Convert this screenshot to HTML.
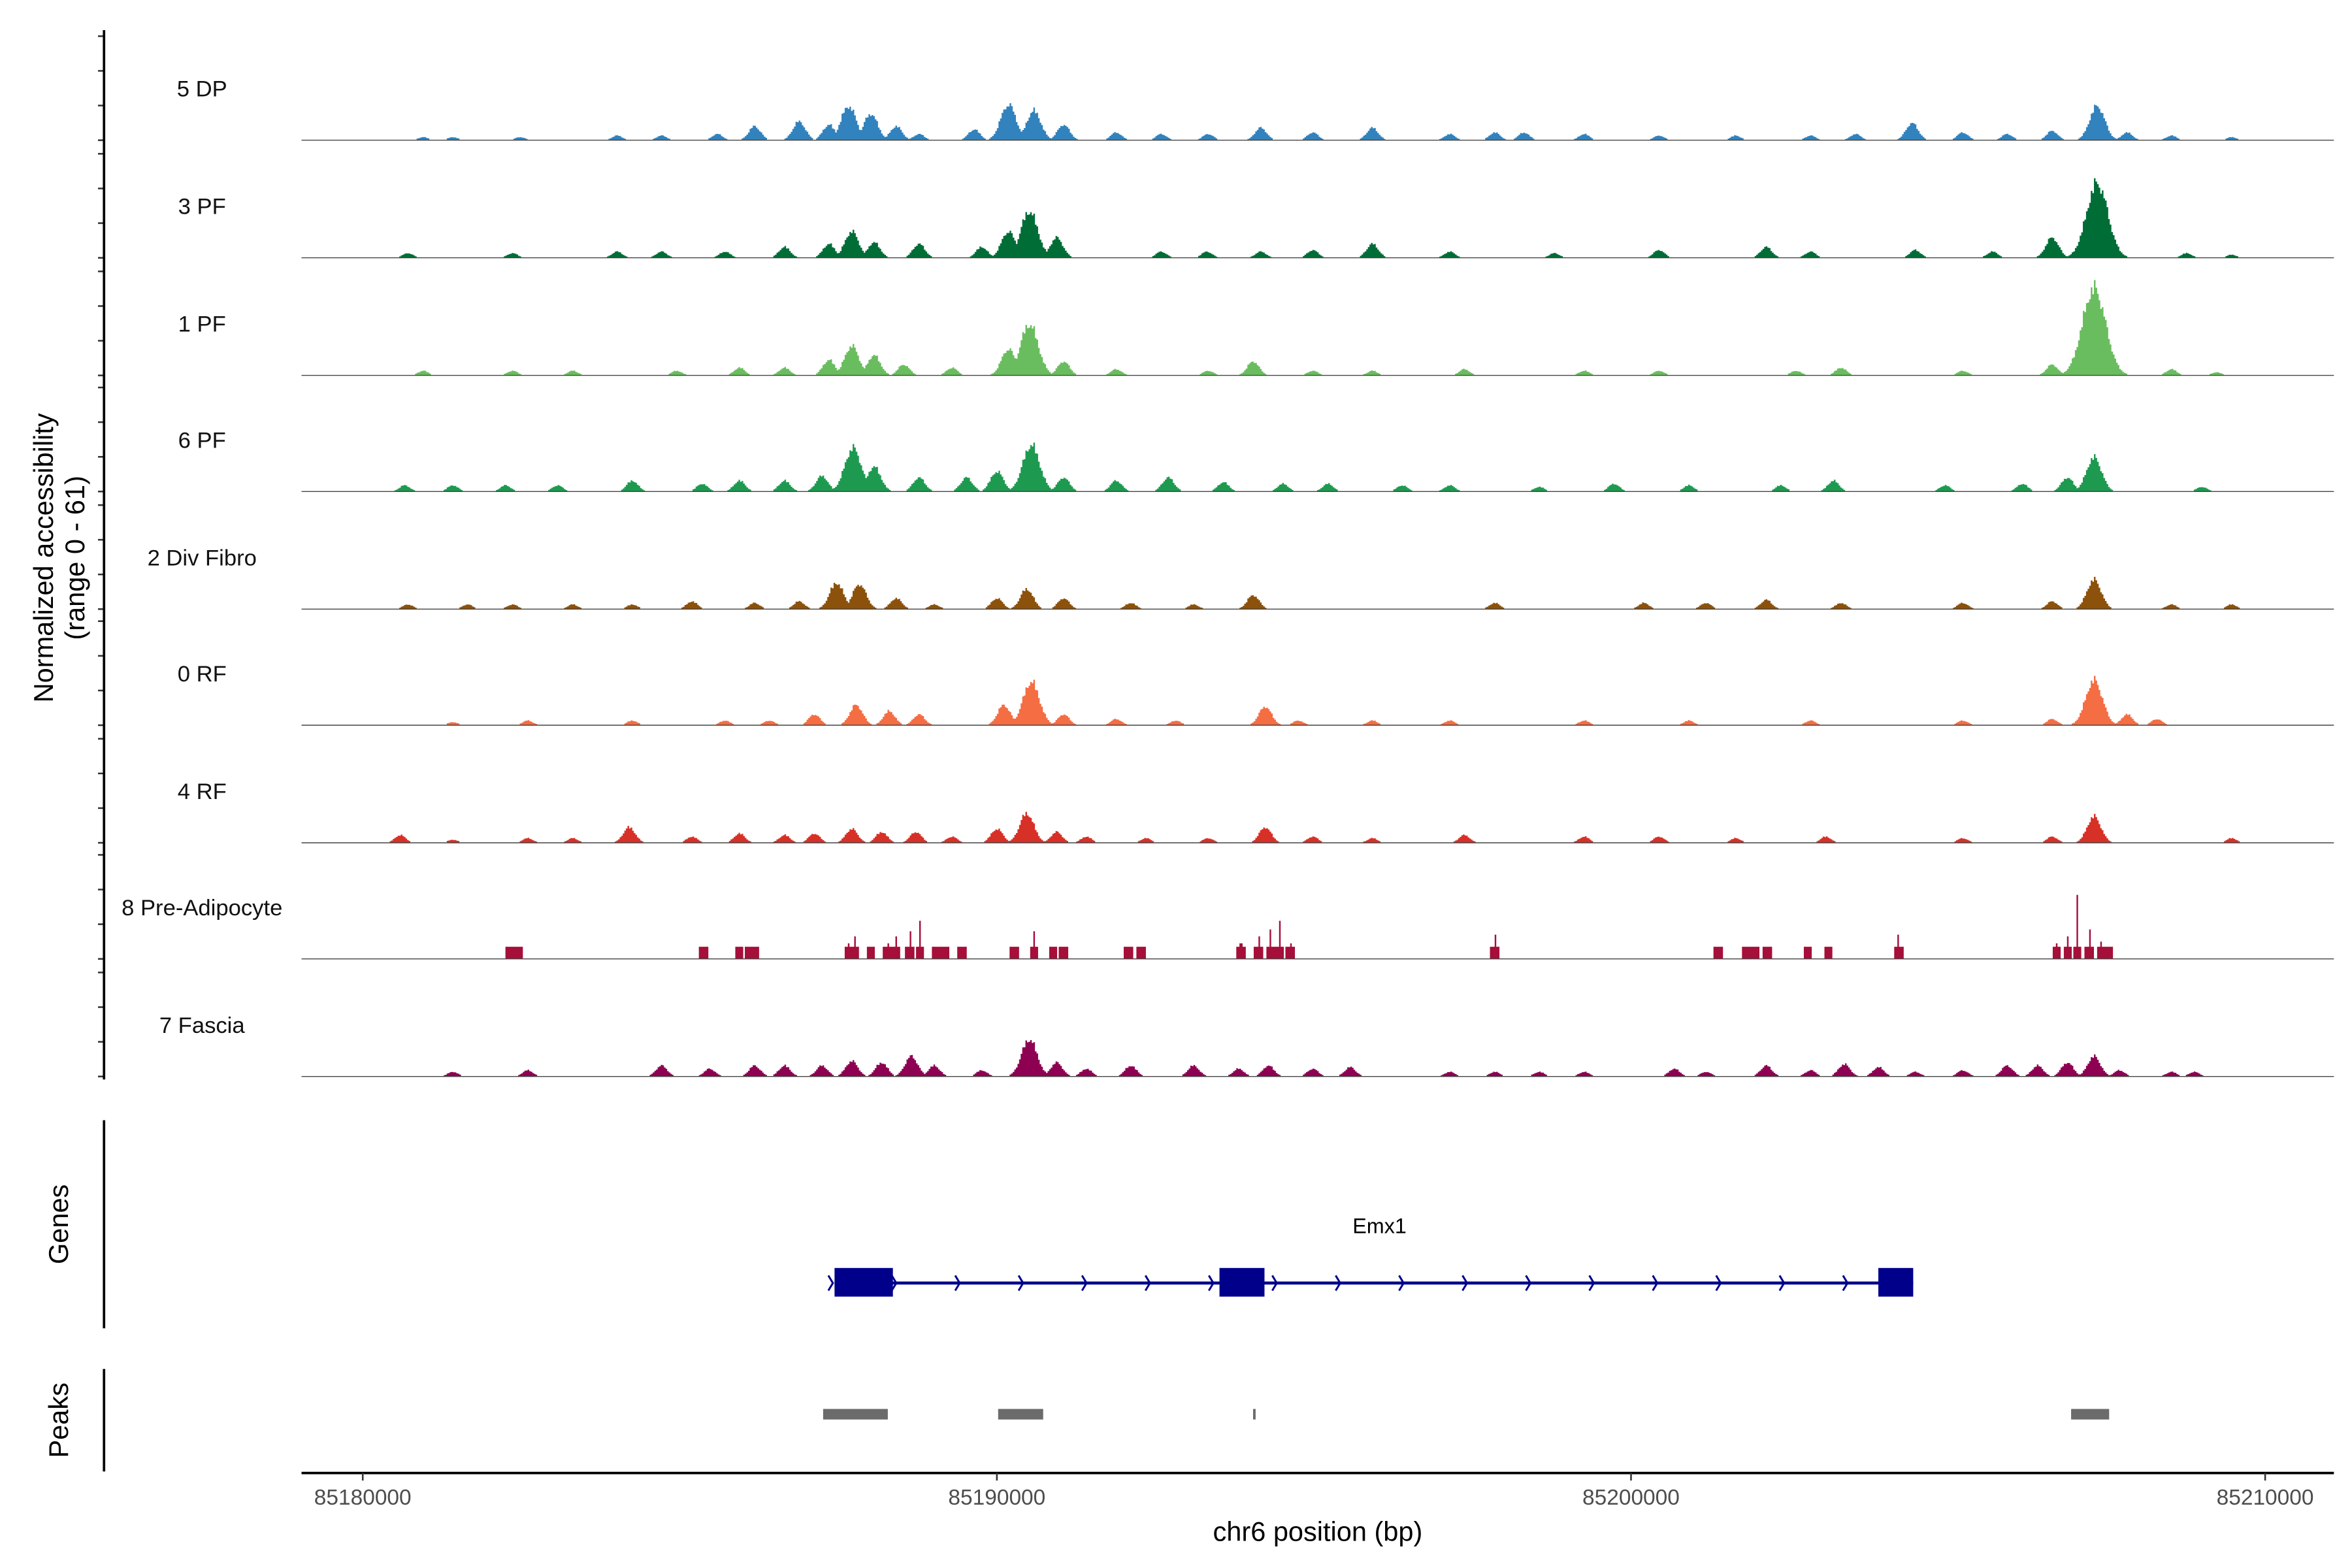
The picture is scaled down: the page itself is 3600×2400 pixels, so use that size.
<!DOCTYPE html>
<html><head><meta charset="utf-8"><style>
html,body{margin:0;padding:0;background:#fff;}
svg{display:block;}
text{font-family:"Liberation Sans",Arial,sans-serif;}
</style></head><body>
<svg id="chart" width="3600" height="2400" viewBox="0 0 1560 1040" xmlns="http://www.w3.org/2000/svg">
<rect width="1560" height="1040" fill="#fff"/>
<g id="tracks"></g>
<g id="axes"></g>
</svg>
<script>
// region: kb offsets from 85,180,000 bp
const regionStart = 85180000;
const trackNames = ["5 DP","3 PF","1 PF","6 PF","2 Div Fibro","0 RF","4 RF","8 Pre-Adipocyte","7 Fascia"];
const trackColors = ["#3182BD","#006D37","#6ABD5F","#1E9A50","#8C510A","#F46D43","#D73027","#A50F3A","#8E0152"];
const pos5DP = [0.94,1.41,2.47,4.0,4.7,5.58,6.17,6.87,7.34,7.65,8.0,8.4,8.76,9.63,10.17,10.57,11.04,11.87,12.58,13.32,14.15,14.97,15.91,17.13,17.84,18.3,19.25,20.43,21.64,22.82,23.53,24.42,25.22,25.92,26.63,27.34,27.81,28.51,29.46];
const val5DP = [2,2,2,3,3,4,9,12,10,22,17,9,4,7,23,19,10,5,4,4,8,5,8,4,5,5,4,3,3,3,4,11,5,4,6,22,5,3,2];
const pos3PF = [0.7,2.35,4.0,4.7,5.7,6.64,7.34,7.7,8.05,8.76,9.75,10.17,10.5,10.93,12.58,13.3,14.15,14.97,15.91,17.13,18.78,20.43,22.12,22.82,24.47,25.69,26.63,27.34,28.75,29.46];
const val3PF = [3,3,4,4,4,7,9,17,10,9,7,17,30,13,4,4,4,5,9,4,3,5,7,4,5,4,13,48,3,2];
const pos1PF = [0.94,2.35,3.3,4.94,5.93,6.64,7.34,7.7,8.05,8.52,9.28,10.17,10.5,11.04,11.87,13.32,14.03,14.97,15.91,17.36,19.25,20.43,22.59,23.3,25.22,26.63,27.29,28.51,29.22];
const val1PF = [3,3,3,3,5,5,10,19,13,7,5,17,33,9,4,3,9,3,3,4,3,3,3,5,3,7,56,4,2];
const pos6PF = [0.65,1.41,2.24,3.06,4.24,5.34,5.93,6.64,7.23,7.72,8.05,8.76,9.51,9.99,10.53,11.04,11.87,12.69,13.56,14.5,15.21,16.38,17.13,18.54,19.72,20.9,22.35,23.18,24.94,26.16,26.87,27.29,28.99];
const val6PF = [4,4,4,4,7,5,7,7,10,28,16,9,9,13,30,9,7,9,6,5,5,4,4,3,5,4,4,7,4,5,9,22,3];
const posDiv = [0.7,1.64,2.35,3.3,4.24,5.18,6.17,6.87,7.46,7.82,8.4,9.0,9.99,10.46,11.04,12.1,13.09,14.03,17.84,20.19,21.17,22.12,23.3,25.22,26.63,27.29,28.51,29.46];
const valDiv = [3,3,3,3,3,5,4,5,17,16,7,3,7,13,7,4,3,9,4,4,4,6,4,4,5,19,3,3];
const pos0RF = [1.41,2.59,4.24,5.7,6.4,7.11,7.77,8.29,8.76,10.1,10.53,11.04,11.87,12.81,14.22,14.74,15.91,17.13,19.25,20.9,22.82,25.22,26.63,27.29,27.81,28.28];
const val0RF = [2,3,3,3,3,7,13,9,7,13,28,7,4,3,12,3,3,3,3,3,3,3,4,29,7,4];
const pos4RF = [0.58,1.41,2.59,3.3,4.19,5.18,5.93,6.64,7.11,7.7,8.17,8.71,9.28,9.99,10.46,10.93,11.4,12.34,13.32,14.22,14.97,15.91,17.36,19.25,20.43,21.64,23.06,25.22,26.63,27.29,29.46];
const val4RF = [5,2,3,3,10,4,6,5,6,9,7,7,4,9,19,7,4,3,3,10,4,3,5,4,4,3,4,3,4,17,3];
const posPre = [2.3,2.44,5.36,5.93,6.07,6.17,7.65,7.75,8.0,8.27,8.4,8.62,8.78,9.04,9.18,9.44,10.27,10.57,10.88,11.04,12.06,12.27,13.84,14.12,14.31,14.45,14.62,17.84,21.36,21.81,21.95,22.14,22.78,23.1,24.21,26.7,26.87,27.03,27.22,27.41,27.52];
const valPre = [7,7,7,7,7,7,9,13,7,9,13,16,22,7,7,7,7,16,7,7,7,7,9,13,17,22,9,14,7,7,7,7,7,7,14,9,13,37,17,10,7];
const posFas = [1.41,2.59,4.7,5.46,6.17,6.64,7.23,7.7,8.17,8.64,9.0,9.75,10.5,10.93,11.4,12.1,13.09,13.8,14.27,14.97,15.56,17.13,17.84,18.54,19.25,20.67,21.17,22.12,22.82,23.35,23.89,24.47,25.22,25.92,26.4,26.87,27.29,27.69,28.51,28.87];
const valFas = [3,4,7,5,7,7,7,10,9,13,7,4,24,9,5,7,7,5,7,5,6,3,3,3,3,5,3,7,4,8,6,3,4,7,7,9,13,4,3,3];
const trackPos = [pos5DP,pos3PF,pos1PF,pos6PF,posDiv,pos0RF,pos4RF,posPre,posFas];
const trackVal = [val5DP,val3PF,val1PF,val6PF,valDiv,val0RF,val4RF,valPre,valFas];
const geneExonStarts = [7.44,13.51,23.90];
const geneExonEnds = [8.36,14.22,24.45];
const peakStarts = [7.26,10.02,14.04,26.94];
const peakEnds = [8.28,10.73,14.08,27.54];
const xTicks = [85180000,85190000,85200000,85210000];
const yMax = 61;

const NS = "http://www.w3.org/2000/svg";
function mk(tag, attrs, parent){const e=document.createElementNS(NS,tag);for(const k in attrs)e.setAttribute(k,attrs[k]);parent.appendChild(e);return e;}
const xScale = kb => 240.6 + kb*42.06;
const xBp = bp => xScale((bp-regionStart)/1000);
const trackH = 70;
const yScale = (v, base) => base - v/yMax*trackH;
const baselines = [93,171,249,326,404,481,559,636,714];
const tracksG = document.getElementById('tracks');
const axesG = document.getElementById('axes');

trackNames.forEach((name,i)=>{
  const base = baselines[i];
  const g = mk('g',{},tracksG);
  
  
  const pos = trackPos[i], val = trackVal[i];
  const spiky = (i===7);
  const step = 0.025;
  let d = '';
  let prevOn=false;
  const nb = 1200;
  for(let b=0;b<=nb;b++){
    const k=b*step;
    let s=0;
    for(let j=0;j<pos.length;j++){
      const dd=Math.abs(k-pos[j]);
      let h=0;
      if(spiky){
        const w=0.07;
        if(dd<w) h = dd<0.015 ? val[j] : Math.min(val[j],7);
      } else {
        const w = 0.16 + val[j]*0.004;
        if(dd<w*2){ const r=dd/w; h = val[j]*Math.exp(-2.2*r*r); }
      }
      if(h>s)s=h;
    }
    if(!spiky && s>0){
      // rendering texture: jagged pileup look
      const tex = 0.82 + 0.18*Math.abs(Math.sin(b*2.7)*Math.cos(b*1.3));
      s = s*tex;
    }
    const x0=xScale(k), x1=xScale(k+step);
    if(s>0.7){
      const y=yScale(s,base);
      if(!prevOn) d+='M'+x0.toFixed(2)+','+base;
      d+='L'+x0.toFixed(2)+','+y.toFixed(2)+'L'+x1.toFixed(2)+','+y.toFixed(2);
      prevOn=true;
    } else if(prevOn){ d+='L'+x0.toFixed(2)+','+base+'Z'; prevOn=false; }
  }
  if(prevOn) d+='L'+xScale((nb+1)*step).toFixed(2)+','+base+'Z';
  const p = mk('path',{d:d,fill:trackColors[i]},g);
  
  
  const bl = mk('line',{x1:200,x2:1548,y1:base,y2:base,stroke:'#444','stroke-width':0.6},g);
  
  
  const t = mk('text',{x:134,y:base-29,'font-size':15,'text-anchor':'middle',fill:'#111'},g);
  t.textContent=name;
  
  
  [69,46,23,0].forEach(o=>{
    const tk=mk('line',{x1:65,x2:69,y1:base-o,y2:base-o,stroke:'#333','stroke-width':1.1},axesG);
    
    
  });
});

// left axes
[[20,716],[743,881],[908,976]].forEach(r=>{
  const l=mk('line',{x1:69,x2:69,y1:r[0],y2:r[1],stroke:'#000','stroke-width':1.6},axesG);
  
  
});
const yt=mk('text',{transform:'translate(35,370) rotate(-90)','font-size':18,'text-anchor':'middle',fill:'#000'},axesG);


const ts1=mk('tspan',{x:0,dy:0},yt); ts1.textContent='Normalized accessibility';
const ts2=mk('tspan',{x:0,dy:21},yt); ts2.textContent='(range 0 - '+yMax+')';
const gt=mk('text',{transform:'translate(45,812) rotate(-90)','font-size':18,'text-anchor':'middle',fill:'#000'},axesG);
gt.textContent='Genes';


const pt=mk('text',{transform:'translate(45,942) rotate(-90)','font-size':18,'text-anchor':'middle',fill:'#000'},axesG);
pt.textContent='Peaks';



// gene track
const geneG=mk('g',{},tracksG);


const gs=geneExonStarts[0], ge=geneExonEnds[geneExonEnds.length-1];
const gl=mk('line',{x1:xScale(gs),x2:xScale(ge),y1:851,y2:851,stroke:'#00008B','stroke-width':2},geneG);


for(let k=gs-0.05;k<ge;k+=1.0){
  const x=xScale(k);
  const a=mk('polyline',{points:(x-2)+',846 '+(x+1)+',851 '+(x-2)+',856',fill:'none',stroke:'#00008B','stroke-width':1.3},geneG);
  
  
}
geneExonStarts.forEach((s,i)=>{
  const r=mk('rect',{x:xScale(s),y:841,width:xScale(geneExonEnds[i])-xScale(s),height:19,fill:'#00008B'},geneG);
  
  
});
const gn=mk('text',{x:915,y:818,'font-size':14,'text-anchor':'middle',fill:'#000'},geneG);
gn.textContent='Emx1';



// peaks
peakStarts.forEach((s,i)=>{
  const w=Math.max(1.2,xScale(peakEnds[i])-xScale(s));
  const r=mk('rect',{x:xScale(s),y:934.5,width:w,height:7,fill:'#6B6B6B'},tracksG);
  
  
});

// x axis
const xa=mk('line',{x1:200,x2:1548,y1:977,y2:977,stroke:'#000','stroke-width':1.6},axesG);


xTicks.forEach(t=>{
  const x=xBp(t);
  const l=mk('line',{x1:x,x2:x,y1:977,y2:982,stroke:'#333','stroke-width':1.1},axesG);
  
  
  const tx=mk('text',{x:x,y:998,'font-size':14.5,'text-anchor':'middle',fill:'#4D4D4D'},axesG);
  tx.textContent=String(t);
  
  
});
const xt=mk('text',{x:874,y:1022,'font-size':18,'text-anchor':'middle',fill:'#000'},axesG);
xt.textContent='chr6 position (bp)';


</script>
</body></html>
